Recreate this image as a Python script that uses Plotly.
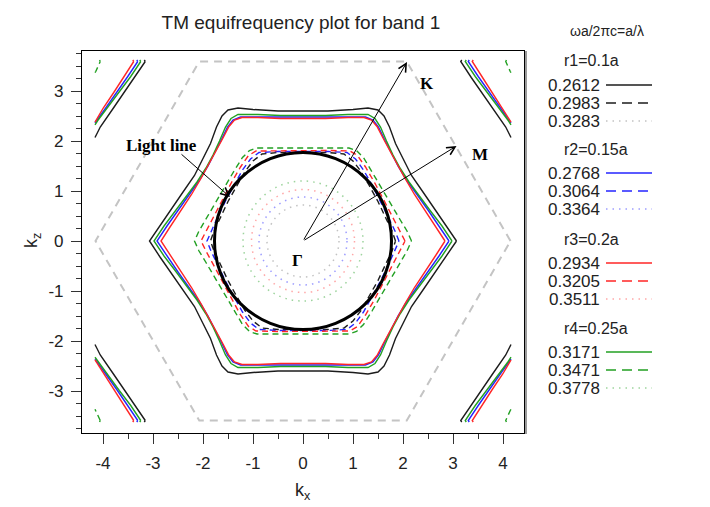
import plotly.graph_objects as go

# ---------------- data ----------------
# Brillouin-zone hexagon vertices (k units)
BZ_X = [4.15, 2.075, -2.075, -4.15, -2.075, 2.075, 4.15]
BZ_Z = [0.00, 3.59, 3.59, 0.00, -3.59, -3.59, 0.00]

# computed k-domain (contours stop at this rectangle)
DOMAIN_KX = 4.16
DOMAIN_KZ = 3.62

# first-quadrant points of each equifrequency contour (kx, kz)
BLACK_SOLID_X = [3.07, 2.86, 2.66, 2.42, 2.17, 2.00, 1.85, 1.73, 1.62, 1.50, 1.30, 1.00, 0.50, 0.00]
BLACK_SOLID_Z = [0.00, 0.32, 0.60, 0.95, 1.31, 1.65, 1.95, 2.28, 2.50, 2.62, 2.66, 2.63, 2.60, 2.60]
BLUE_SOLID_X = [2.92, 2.72, 2.50, 2.28, 2.07, 1.90, 1.76, 1.63, 1.51, 1.40, 1.25, 0.90, 0.45, 0.00]
BLUE_SOLID_Z = [0.00, 0.30, 0.62, 0.93, 1.22, 1.50, 1.76, 2.03, 2.28, 2.42, 2.48, 2.48, 2.47, 2.47]
RED_SOLID_X = [2.84, 2.66, 2.44, 2.23, 2.03, 1.87, 1.74, 1.60, 1.48, 1.37, 1.22, 0.90, 0.45, 0.00]
RED_SOLID_Z = [0.00, 0.28, 0.62, 0.93, 1.27, 1.55, 1.80, 2.06, 2.29, 2.42, 2.47, 2.47, 2.45, 2.45]
GREEN_SOLID_X = [2.98, 2.78, 2.55, 2.33, 2.12, 1.94, 1.80, 1.67, 1.55, 1.44, 1.30, 0.90, 0.45, 0.00]
GREEN_SOLID_Z = [0.00, 0.30, 0.60, 0.90, 1.18, 1.46, 1.72, 2.00, 2.28, 2.45, 2.53, 2.53, 2.51, 2.51]

BLACK_DASH_X = [1.85, 1.78, 1.66, 1.50, 1.33, 1.16, 1.00, 0.82, 0.50, 0.00]
BLACK_DASH_Z = [0.00, 0.20, 0.45, 0.79, 1.10, 1.39, 1.60, 1.74, 1.77, 1.77]
BLUE_DASH_X = [1.92, 1.84, 1.72, 1.55, 1.38, 1.21, 1.05, 0.88, 0.50, 0.00]
BLUE_DASH_Z = [0.00, 0.20, 0.45, 0.80, 1.12, 1.42, 1.64, 1.77, 1.79, 1.79]
RED_DASH_X = [2.04, 1.93, 1.80, 1.61, 1.43, 1.25, 1.09, 0.94, 0.50, 0.00]
RED_DASH_Z = [0.00, 0.22, 0.46, 0.83, 1.17, 1.48, 1.71, 1.80, 1.81, 1.81]
GREEN_DASH_X = [2.17, 2.08, 1.94, 1.75, 1.56, 1.38, 1.21, 1.07, 0.92, 0.50, 0.00]
GREEN_DASH_Z = [0.00, 0.20, 0.43, 0.76, 1.09, 1.40, 1.67, 1.81, 1.86, 1.86, 1.86]

# near-circular dotted contours (radius in k units)
DOT_RADII = {"black": 0.72, "blue": 0.88, "red": 1.03, "green": 1.20}

LIGHT_LINE_R = 1.77
K_POINT = (2.08, 3.58)
M_POINT = (3.07, 1.90)

# legend
LEGEND_TITLE = "ωa/2πc=a/λ"
GROUP_LABELS = ["r1=0.1a", "r2=0.15a", "r3=0.2a", "r4=0.25a"]
GROUP_FREQS = [["0.2612", "0.2983", "0.3283"],
               ["0.2768", "0.3064", "0.3364"],
               ["0.2934", "0.3205", "0.3511"],
               ["0.3171", "0.3471", "0.3778"]]
X_TICKS = [-4, -3, -2, -1, 0, 1, 2, 3, 4]
Z_TICKS = [-3, -2, -1, 0, 1, 2, 3]

# ---------------- styles ----------------
COL = {"black": "#1c1c1c", "blue": "#2424ff", "red": "#ff2626", "green": "#22a022"}
DOT_COL = {"black": "rgba(120,120,120,0.45)", "blue": "rgba(60,60,255,0.5)",
           "red": "rgba(255,80,80,0.5)", "green": "rgba(60,170,60,0.5)"}
GROUP_COLORS = ["black", "blue", "red", "green"]
DASH = "6px,4px"
DOT = "1.5px,5px"
FONT = "Liberation Sans, Arial, sans-serif"
SERIF = "Liberation Serif, Times New Roman, serif"

W, H = 710, 507
L, R, T, B = 82, 524, 51, 433


def px(xp):
    return (xp - L) / (R - L)


def py(yp):
    return (B - yp) / (B - T)


def full_contour(qx, qz):
    xs = list(qx) + [-v for v in reversed(qx)][1:] + [-v for v in qx][1:] + list(reversed(qx))[1:]
    zs = list(qz) + list(reversed(qz))[1:] + [-v for v in qz][1:] + [-v for v in reversed(qz)][1:]
    return xs, zs


def clip_seg(x0, y0, x1, y1, xmin, xmax, ymin, ymax):
    dx, dy = x1 - x0, y1 - y0
    t0, t1 = 0.0, 1.0
    for p, q in ((-dx, x0 - xmin), (dx, xmax - x0), (-dy, y0 - ymin), (dy, ymax - y0)):
        if p == 0:
            if q < 0:
                return None
        else:
            t = q / p
            if p < 0:
                if t > t1:
                    return None
                t0 = max(t0, t)
            else:
                if t < t0:
                    return None
                t1 = min(t1, t)
    return x0 + t0 * dx, y0 + t0 * dy, x0 + t1 * dx, y0 + t1 * dy


def clip_polyline(xs, zs):
    ox, oz = [], []
    for i in range(len(xs) - 1):
        s = clip_seg(xs[i], zs[i], xs[i + 1], zs[i + 1],
                     -DOMAIN_KX, DOMAIN_KX, -DOMAIN_KZ, DOMAIN_KZ)
        if s is None:
            continue
        a, b, c, d = s
        if ox and ox[-1] is not None and (abs(ox[-1] - a) > 1e-9 or abs(oz[-1] - b) > 1e-9):
            ox.append(None); oz.append(None)
        if not ox or ox[-1] is None:
            ox.append(a); oz.append(b)
        ox.append(c); oz.append(d)
    return ox, oz


# reciprocal-lattice shifts to neighbouring zones: sum of adjacent hexagon vertices
SHIFTS = [(0.0, 0.0)]
for i in range(6):
    SHIFTS.append((BZ_X[i] + BZ_X[i + 1], BZ_Z[i] + BZ_Z[i + 1]))


def periodic_contour(qx, qz):
    fx, fz = full_contour(qx, qz)
    X, Z = [], []
    for sx, sz in SHIFTS:
        cx, cz = clip_polyline([v + sx for v in fx], [v + sz for v in fz])
        if cx:
            if X:
                X.append(None); Z.append(None)
            X += cx; Z += cz
    return X, Z


fig = go.Figure()

# Brillouin zone
fig.add_trace(go.Scatter(x=BZ_X, y=BZ_Z, mode="lines",
                         line=dict(color="#c4c4c4", width=2, dash="8px,6px"),
                         showlegend=False, hoverinfo="skip"))

contours = [
    ("black", BLACK_SOLID_X, BLACK_SOLID_Z, "solid"),
    ("blue", BLUE_SOLID_X, BLUE_SOLID_Z, "solid"),
    ("green", GREEN_SOLID_X, GREEN_SOLID_Z, "solid"),
    ("red", RED_SOLID_X, RED_SOLID_Z, "solid"),
    ("black", BLACK_DASH_X, BLACK_DASH_Z, DASH),
    ("blue", BLUE_DASH_X, BLUE_DASH_Z, DASH),
    ("red", RED_DASH_X, RED_DASH_Z, DASH),
    ("green", GREEN_DASH_X, GREEN_DASH_Z, DASH),
]
for c, qx, qz, d in contours:
    X, Z = periodic_contour(qx, qz)
    fig.add_trace(go.Scatter(x=X, y=Z, mode="lines",
                             line=dict(color=COL[c], width=1.4, dash=d),
                             showlegend=False, hoverinfo="skip", connectgaps=False))

shapes = []
for c, r in DOT_RADII.items():
    shapes.append(dict(type="circle", xref="x", yref="y", x0=-r, x1=r, y0=-r, y1=r,
                       line=dict(color=DOT_COL[c], width=1.5, dash=DOT)))
# light line
shapes.append(dict(type="circle", xref="x", yref="y",
                   x0=-LIGHT_LINE_R, x1=LIGHT_LINE_R, y0=-LIGHT_LINE_R, y1=LIGHT_LINE_R,
                   line=dict(color="black", width=3)))
# grey shadow on the right frame edge
shapes.append(dict(type="line", xref="paper", yref="paper", x0=1 + 2 / (R - L), x1=1 + 2 / (R - L),
                   y0=-1 / (B - T), y1=1, line=dict(color="#9a9a9a", width=2)))

annotations = []
# arrows Γ->K and Γ->M
for pt in (K_POINT, M_POINT):
    annotations.append(dict(x=pt[0], y=pt[1], ax=0, ay=0, xref="x", yref="y",
                            axref="x", ayref="y", text="", showarrow=True,
                            arrowhead=5, arrowsize=1.6, arrowwidth=1, arrowcolor="black"))
annotations.append(dict(x=-1.46, y=0.88, ax=-2.46, ay=1.76, xref="x", yref="y",
                        axref="x", ayref="y", text="", showarrow=True,
                        arrowhead=5, arrowsize=1.6, arrowwidth=1, arrowcolor="black"))
for txt, x, y in (("K", 2.48, 3.16), ("M", 3.54, 1.74), ("Γ", -0.12, -0.38)):
    annotations.append(dict(x=x, y=y, xref="x", yref="y", text="<b>%s</b>" % txt,
                            xanchor="center", yanchor="middle",
                            showarrow=False, font=dict(family=SERIF, size=17, color="black")))
annotations.append(dict(x=-2.84, y=1.91, xref="x", yref="y", text="<b>Light line</b>",
                        xanchor="center", yanchor="middle",
                        showarrow=False, font=dict(family=SERIF, size=17, color="black")))

# axis titles
annotations.append(dict(x=px(303), y=py(491), xref="paper", yref="paper",
                        xanchor="center", yanchor="middle",
                        text="k<sub>x</sub>", showarrow=False,
                        font=dict(family=FONT, size=18, color="#222")))
annotations.append(dict(x=px(32), y=py(241), xref="paper", yref="paper",
                        xanchor="center", yanchor="middle",
                        text="k<sub>z</sub>", showarrow=False, textangle=-90,
                        font=dict(family=FONT, size=18, color="#222")))

# custom legend (text left, sample line right)
annotations.append(dict(x=px(607), y=py(31), xref="paper", yref="paper", text=LEGEND_TITLE,
                        xanchor="center", yanchor="middle",
                        showarrow=False, font=dict(family=FONT, size=14, color="#222")))
header_y = [61, 149, 239, 328]
for g, label in enumerate(GROUP_LABELS):
    hy = header_y[g]
    annotations.append(dict(x=px(562), y=py(hy), xref="paper", yref="paper", text=label,
                            xanchor="left", yanchor="middle", showarrow=False,
                            font=dict(family=FONT, size=16, color="#222")))
    for k, f in enumerate(GROUP_FREQS[g]):
        ry = hy + 24 + 18 * k
        annotations.append(dict(x=px(602), y=py(ry), xref="paper", yref="paper", text=f,
                                xanchor="right", yanchor="middle", showarrow=False,
                                font=dict(family=FONT, size=17, color="#222")))
        c = GROUP_COLORS[g]
        if k == 0:
            ln = dict(color=COL[c], width=1.6)
        elif k == 1:
            ln = dict(color=COL[c], width=1.6, dash="10px,6px")
        else:
            ln = dict(color=DOT_COL[c], width=1.5, dash=DOT)
        shapes.append(dict(type="line", xref="paper", yref="paper",
                           x0=px(606), x1=px(652), y0=py(ry), y1=py(ry), line=ln))

fig.update_layout(
    width=W, height=H,
    margin=dict(l=L, r=W - R, t=T, b=H - B),
    paper_bgcolor="white", plot_bgcolor="white",
    title=dict(text="TM equifrequency plot for band 1", x=301 / W,
               xanchor="center", y=1 - 22 / H, yanchor="middle",
               font=dict(family=FONT, size=19, color="#222")),
    shapes=shapes, annotations=annotations, showlegend=False,
    font=dict(family=FONT),
)
fig.update_xaxes(range=[-4.42, 4.42], tickvals=X_TICKS, ticktext=[str(v) for v in X_TICKS],
                 ticks="outside", ticklen=10, ticklabelstandoff=4,
                 tickwidth=1.2, tickcolor="#333", showgrid=False, zeroline=False,
                 showline=True, linecolor="black", linewidth=1.2, mirror=True,
                 minor=dict(dtick=0.5, ticks="outside", ticklen=5, tickcolor="#333", showgrid=False),
                 tickfont=dict(family=FONT, size=17, color="#222"))
fig.update_yaxes(range=[-3.84, 3.80], tickvals=Z_TICKS, ticktext=[str(v) for v in Z_TICKS],
                 ticks="outside", ticklen=10, ticklabelstandoff=4,
                 tickwidth=1.2, tickcolor="#333", showgrid=False, zeroline=False,
                 showline=True, linecolor="black", linewidth=1.2, mirror=True,
                 minor=dict(dtick=0.25, ticks="outside", ticklen=5, tickcolor="#333", showgrid=False),
                 tickfont=dict(family=FONT, size=17, color="#222"))

fig.write_html("out.html")
